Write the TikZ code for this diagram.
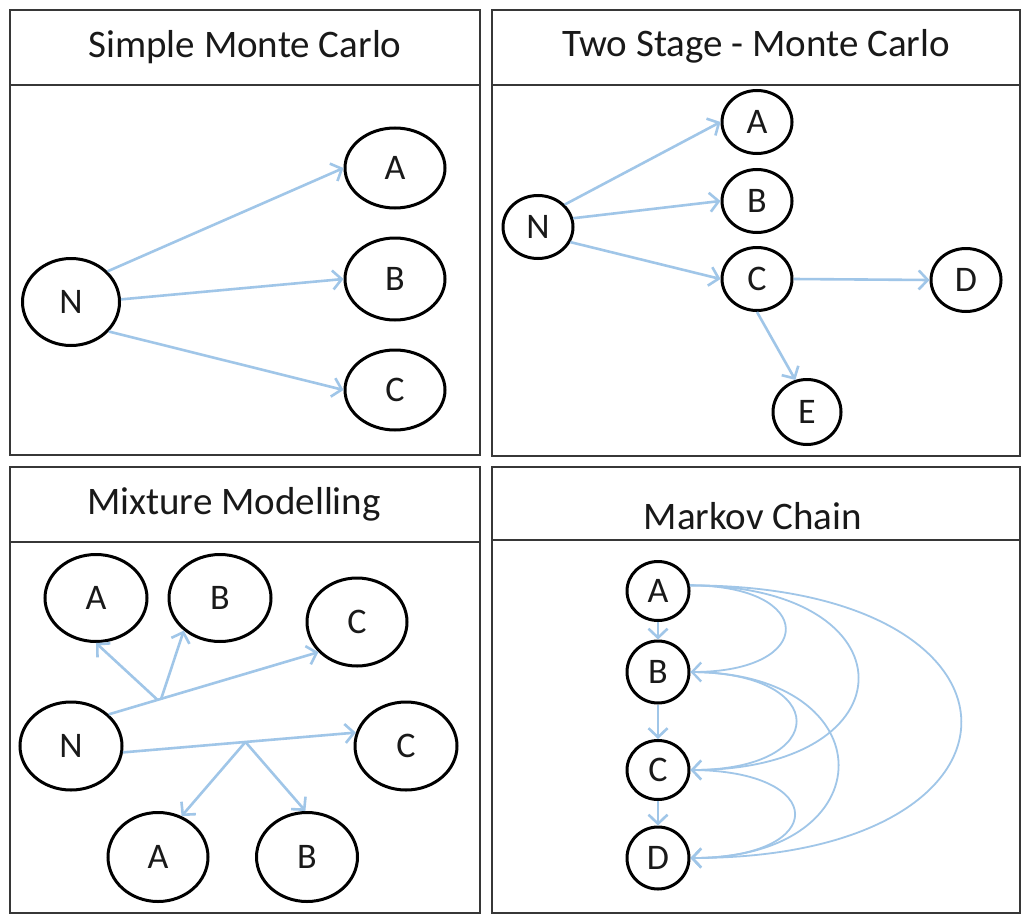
\documentclass[tikz,border=0pt]{standalone}
\usepackage{fontspec}
\setmainfont{Carlito}
\usetikzlibrary{shapes.geometric,arrows.meta}
\definecolor{arrowblue}{RGB}{160,198,232}
\definecolor{framegray}{RGB}{55,55,55}
\definecolor{txt}{RGB}{25,25,25}
\begin{document}
\begin{tikzpicture}[x=1pt,y=-1pt,
  panel/.style={draw=framegray,line width=1.8pt},
  ttl/.style={font=\fontsize{39}{44}\selectfont,text=txt,inner sep=0pt},
  nd/.style={ellipse,draw=black,line width=3pt,inner sep=0pt,text=txt,font=\fontsize{36}{40}\selectfont},
  big/.style={nd,minimum width=100pt,minimum height=84pt},
  med/.style={nd,minimum width=70pt,minimum height=63pt},
  sml/.style={nd,minimum width=62pt,minimum height=59pt},
  arr/.style={draw=arrowblue,line width=2.6pt,-{Straight Barb[length=9pt,width=19pt,line width=2.6pt]}},
  arc/.style={draw=arrowblue,line width=1.8pt,-{Straight Barb[length=9pt,width=19pt,line width=2.4pt]}}
]
\useasboundingbox[fill=white] (0,0) rectangle (1032,923);

% ---------- panel frames ----------
\draw[panel] (10,10) rectangle (480,455);
\draw[panel] (10,85) -- (480,85);
\draw[panel] (492,10) rectangle (1020,456);
\draw[panel] (492,85) -- (1020,85);
\draw[panel] (10,467) rectangle (480,913);
\draw[panel] (10,542) -- (480,542);
\draw[panel] (492,467) rectangle (1020,913);
\draw[panel] (492,540) -- (1020,540);

\node[ttl] (t1) at (245,47) {Simple Monte Carlo};
\node[ttl] (t2) at (756,46) {Two Stage - Monte Carlo};
\node[ttl] (t3) at (234,504) {Mixture Modelling};
\node[ttl] (t4) at (753,516) {Markov Chain};

% ---------- panel 1: Simple Monte Carlo ----------
\node[big,minimum width=97pt,minimum height=87pt] (p1N) at (71,302) {N};
\node[big,minimum height=80pt] (p1A) at (395,168) {A};
\node[big,minimum height=82pt] (p1B) at (395,279) {B};
\node[big,minimum height=80pt] (p1C) at (395,390) {C};
\draw[arr] (p1N.40) -- (p1A.180);
\draw[arr] (p1N.3) -- (p1B.180);
\draw[arr] (p1N.-38) -- (p1C.180);

% ---------- panel 2: Two Stage ----------
\node[med] (p2N) at (538,227) {N};
\node[med] (p2A) at (757,122) {A};
\node[med] (p2B) at (757,201) {B};
\node[med] (p2C) at (757,279) {C};
\node[med] (p2D) at (966,280) {D};
\node[med,minimum width=68pt,minimum height=65pt] (p2E) at (807,412) {E};
\draw[arr] (p2N.40) -- (p2A.180);
\draw[arr] (p2N.14) -- (p2B.180);
\draw[arr] (p2N.-25) -- (p2C.180);
\draw[arr] (p2C.east) -- (p2D.west);
\draw[arr] (p2C.south) -- (p2E.110);

% ---------- panel 3: Mixture Modelling ----------
\node[big,minimum width=102pt,minimum height=87pt] (p3A1) at (96,598) {A};
\node[big,minimum width=102pt,minimum height=87pt] (p3B1) at (220,598) {B};
\node[big,minimum width=100pt,minimum height=88pt] (p3C1) at (357,622) {C};
\node[big,minimum width=102pt,minimum height=88pt] (p3N) at (71,746) {N};
\node[big,minimum width=102pt,minimum height=88pt] (p3C2) at (406,746) {C};
\node[big,minimum width=100pt,minimum height=89pt] (p3A2) at (158,857) {A};
\node[big,minimum width=101pt,minimum height=89pt] (p3B2) at (307,857) {B};
\draw[arr] (p3N.40) -- coordinate[pos=0.233] (m1) coordinate[pos=0.25] (m2) (p3C1.218);
\draw[arr] (m1) -- (p3A1.south);
\draw[arr] (m2) -- (p3B1.222);
\draw[arr] (p3N.-7) -- coordinate[pos=0.526] (m3) (p3C2.165);
\draw[arr] (m3) -- (p3A2.60);
\draw[arr] (m3) -- (p3B2.92);

% ---------- panel 4: Markov Chain ----------
\node[sml] (p4A) at (658,591) {A};
\node[sml,minimum height=62pt] (p4B) at (658,672) {B};
\node[sml] (p4C) at (658,770) {C};
\node[sml,minimum height=62pt] (p4D) at (658,858) {D};
\draw[arr] (p4A.south) -- (p4B.north);
\draw[arr] (p4B.south) -- (p4C.north);
\draw[arr] (p4C.south) -- (p4D.north);
\draw[arc] (p4A.10) .. controls +(127,0) and +(127,0) .. (p4B.east);
\draw[arc] (p4A.10) .. controls +(224,0) and +(224,0) .. (p4C.east);
\draw[arc] (p4A.10) .. controls +(361,0) and +(361,0) .. (p4D.east);
\draw[arc] (p4B.east) .. controls +(141,0) and +(141,0) .. (p4C.east);
\draw[arc] (p4B.east) .. controls +(197,0) and +(197,0) .. (p4D.east);
\draw[arc] (p4C.east) .. controls +(139,0) and +(139,0) .. (p4D.east);
\end{tikzpicture}
\end{document}
